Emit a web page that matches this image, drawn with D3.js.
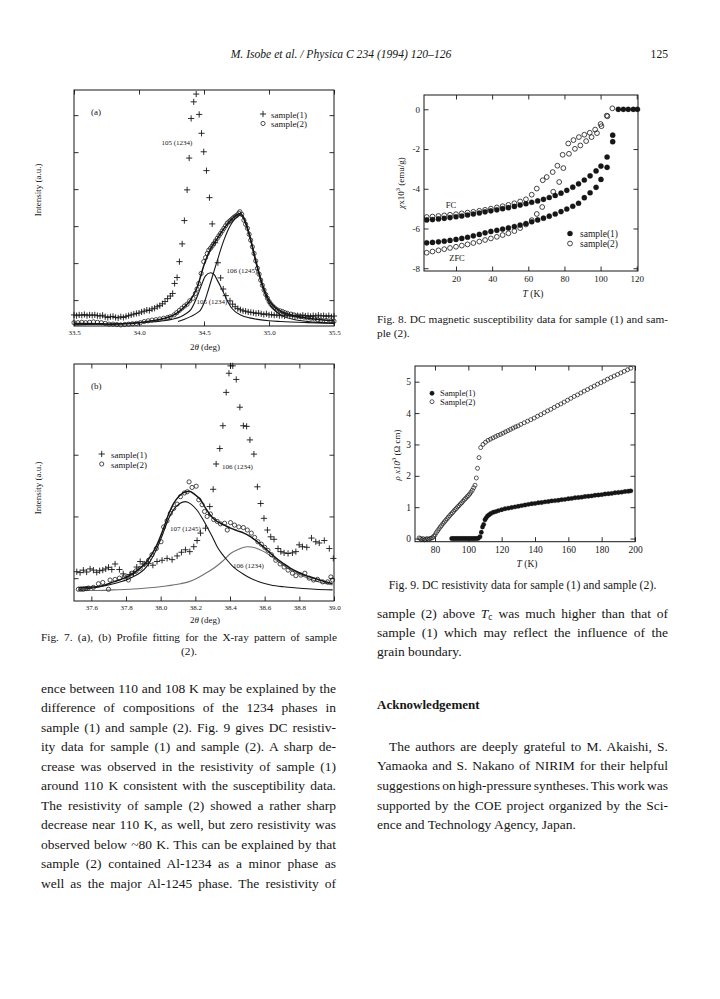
<!DOCTYPE html>
<html><head><meta charset="utf-8">
<script src="https://cdn.jsdelivr.net/npm/d3@7"></script>
<style>
html,body{margin:0;padding:0;background:#fff;}
body{width:720px;height:999px;position:relative;overflow:hidden;font-family:"Liberation Serif","Times New Roman",serif;color:#161616;}
#chart{position:absolute;left:0;top:0;}
.ln{position:absolute;white-space:nowrap;}
sub{font-size:0.7em;vertical-align:-0.25em;line-height:0;}
</style></head>
<body>
<svg id="chart" width="720" height="999"></svg>
<script>
// ---------------- DATA ----------------
// Fig 7(a): 2theta (deg) vs intensity (a.u.)
const aXTicks = [33.5, 34.0, 34.5, 35.0, 35.5];
const aYTicks = [0.7, 1.7, 2.7, 3.7, 4.7, 5.7];
const aSample1 = [[33.50,0.30],[33.52,0.28],[33.54,0.30],[33.56,0.29],[33.58,0.31],[33.60,0.28],[33.62,0.30],[33.64,0.29],[33.66,0.30],[33.68,0.28],[33.70,0.27],[33.72,0.29],[33.74,0.25],[33.76,0.23],[33.78,0.25],[33.80,0.26],[33.82,0.23],[33.84,0.22],[33.86,0.25],[33.88,0.23],[33.90,0.26],[33.92,0.28],[33.94,0.30],[33.96,0.32],[33.98,0.34],[34.00,0.35],[34.02,0.38],[34.04,0.40],[34.06,0.43],[34.08,0.42],[34.10,0.46],[34.12,0.48],[34.14,0.52],[34.16,0.55],[34.18,0.60],[34.20,0.66],[34.22,0.74],[34.241,0.81],[34.259,0.88],[34.274,1.15],[34.293,1.31],[34.311,1.74],[34.332,2.22],[34.349,2.85],[34.370,3.68],[34.386,4.54],[34.401,5.61],[34.421,6.06],[34.440,6.27],[34.463,5.72],[34.481,5.21],[34.498,4.71],[34.519,4.20],[34.542,3.47],[34.563,2.76],[34.585,2.25],[34.607,1.71],[34.628,1.30],[34.648,1.00],[34.668,0.82],[34.70,0.68],[34.72,0.59],[34.74,0.52],[34.76,0.47],[34.78,0.44],[34.80,0.41],[34.82,0.40],[34.84,0.38],[34.86,0.37],[34.88,0.36],[34.90,0.34],[34.92,0.35],[34.94,0.33],[34.96,0.31],[34.98,0.33],[35.00,0.30],[35.02,0.31],[35.04,0.29],[35.06,0.30],[35.08,0.28],[35.10,0.29],[35.12,0.27],[35.14,0.29],[35.16,0.27],[35.18,0.28],[35.20,0.26],[35.22,0.28],[35.24,0.27],[35.26,0.29],[35.28,0.27],[35.30,0.28],[35.32,0.26],[35.34,0.28],[35.36,0.27],[35.38,0.29],[35.40,0.27],[35.42,0.28],[35.44,0.26],[35.46,0.28],[35.48,0.25],[35.50,0.27]];
const aSample2 = [[33.50,0.09],[33.53,0.09],[33.56,0.10],[33.59,0.09],[33.62,0.10],[33.65,0.11],[33.68,0.10],[33.71,0.09],[33.74,0.07],[33.77,0.05],[33.80,0.05],[33.83,0.04],[33.86,0.03],[33.89,0.04],[33.92,0.05],[33.95,0.06],[33.98,0.07],[34.01,0.09],[34.04,0.12],[34.07,0.14],[34.10,0.16],[34.13,0.17],[34.16,0.19],[34.19,0.21],[34.22,0.23],[34.24,0.25],[34.27,0.30],[34.29,0.36],[34.31,0.42],[34.33,0.48],[34.35,0.54],[34.37,0.59],[34.39,0.68],[34.416,0.75],[34.434,0.88],[34.446,1.00],[34.46,1.15],[34.478,1.42],[34.498,1.74],[34.512,1.85],[34.525,1.96],[34.537,2.05],[34.55,2.10],[34.562,2.16],[34.573,2.22],[34.588,2.30],[34.602,2.37],[34.615,2.44],[34.627,2.50],[34.64,2.57],[34.653,2.64],[34.666,2.71],[34.679,2.78],[34.692,2.82],[34.705,2.86],[34.718,2.90],[34.730,2.94],[34.743,2.97],[34.756,3.00],[34.768,3.05],[34.776,3.09],[34.79,3.02],[34.807,2.86],[34.82,2.75],[34.834,2.64],[34.847,2.48],[34.859,2.32],[34.872,2.14],[34.885,1.96],[34.898,1.76],[34.911,1.56],[34.924,1.40],[34.936,1.24],[34.949,1.10],[34.962,0.97],[34.975,0.85],[34.988,0.75],[35.001,0.66],[35.014,0.59],[35.027,0.54],[35.039,0.50],[35.052,0.46],[35.065,0.43],[35.085,0.41],[35.104,0.39],[35.123,0.36],[35.142,0.34],[35.168,0.32],[35.193,0.30],[35.22,0.27],[35.245,0.25],[35.27,0.24],[35.295,0.22],[35.322,0.21],[35.35,0.19],[35.375,0.17],[35.40,0.16],[35.44,0.15],[35.477,0.14],[35.50,0.13]];
const aFitTotal = [[33.5,0.07],[33.6,0.07],[33.7,0.06],[33.8,0.05],[33.9,0.06],[34.0,0.09],[34.1,0.14],[34.2,0.21],[34.25,0.27],[34.3,0.37],[34.35,0.52],[34.4,0.72],[34.45,1.07],[34.5,1.65],[34.55,2.08],[34.6,2.35],[34.65,2.62],[34.7,2.84],[34.75,3.00],[34.78,3.04],[34.8,2.97],[34.85,2.47],[34.9,1.75],[34.95,1.12],[35.0,0.70],[35.05,0.49],[35.1,0.38],[35.2,0.27],[35.3,0.21],[35.4,0.17],[35.5,0.14]];
const aFit1245 = [[34.30,0.12],[34.35,0.18],[34.40,0.26],[34.45,0.36],[34.473,0.43],[34.50,0.62],[34.525,0.88],[34.55,1.17],[34.576,1.47],[34.60,1.74],[34.627,2.05],[34.653,2.32],[34.679,2.55],[34.705,2.73],[34.73,2.86],[34.755,2.95],[34.776,3.00],[34.80,2.93],[34.85,2.42],[34.90,1.70],[34.95,1.05],[35.0,0.62],[35.05,0.40],[35.1,0.28],[35.2,0.17],[35.3,0.12],[35.4,0.09],[35.5,0.08]];
const aFit1234 = [[33.5,0.03],[33.7,0.05],[33.9,0.07],[34.05,0.10],[34.19,0.14],[34.25,0.18],[34.32,0.25],[34.36,0.33],[34.40,0.45],[34.447,0.79],[34.48,1.10],[34.51,1.35],[34.55,1.44],[34.58,1.38],[34.602,1.24],[34.63,1.05],[34.653,0.88],[34.68,0.68],[34.705,0.52],[34.74,0.39],[34.782,0.30],[34.85,0.22],[34.911,0.18],[35.0,0.14],[35.09,0.12],[35.3,0.09],[35.5,0.07]];

// Fig 7(b)
const bXTicks = [37.6, 37.8, 38.0, 38.2, 38.4, 38.6, 38.8, 39.0];
const bYTicks = [0.37, 1.37, 2.37, 3.37];
const bSample1 = [[37.516,0.475],[37.535,0.46],[37.554,0.50],[37.573,0.47],[37.593,0.52],[37.612,0.50],[37.631,0.465],[37.648,0.49],[37.666,0.50],[37.683,0.52],[37.699,0.546],[37.718,0.51],[37.737,0.60],[37.762,0.51],[37.784,0.44],[37.805,0.39],[37.824,0.43],[37.843,0.45],[37.862,0.55],[37.882,0.64],[37.905,0.60],[37.93,0.61],[37.955,0.58],[37.979,0.64],[38.008,0.66],[38.037,0.69],[38.066,0.67],[38.095,0.73],[38.12,0.79],[38.143,0.83],[38.168,0.80],[38.191,0.88],[38.21,0.98],[38.23,1.10],[38.259,1.18],[38.283,1.53],[38.303,1.81],[38.32,2.22],[38.341,2.47],[38.359,2.84],[38.378,3.38],[38.394,3.69],[38.403,3.81],[38.416,3.81],[38.436,3.59],[38.457,3.14],[38.477,2.84],[38.496,2.83],[38.515,2.61],[38.538,2.38],[38.558,1.85],[38.577,1.58],[38.596,1.34],[38.616,1.15],[38.635,1.04],[38.654,1.00],[38.677,0.85],[38.693,0.80],[38.712,0.78],[38.735,0.77],[38.76,0.78],[38.78,0.80],[38.799,0.91],[38.818,0.88],[38.843,0.87],[38.87,1.02],[38.895,0.96],[38.915,0.94],[38.944,0.98],[38.973,0.85],[38.996,0.69]];
const bSample2 = [[37.525,0.19],[37.54,0.19],[37.554,0.19],[37.57,0.20],[37.583,0.21],[37.612,0.22],[37.641,0.28],[37.666,0.30],[37.699,0.19],[37.708,0.34],[37.737,0.35],[37.762,0.37],[37.79,0.39],[37.814,0.34],[37.834,0.45],[37.859,0.49],[37.882,0.53],[37.905,0.60],[37.93,0.66],[37.95,0.75],[37.975,0.85],[38.002,0.96],[38.017,1.20],[38.037,1.30],[38.056,1.42],[38.075,1.50],[38.095,1.57],[38.114,1.69],[38.137,1.75],[38.153,1.77],[38.164,1.93],[38.181,1.84],[38.205,1.86],[38.22,1.64],[38.239,1.56],[38.253,1.45],[38.268,1.37],[38.287,1.41],[38.306,1.32],[38.326,1.29],[38.345,1.25],[38.369,1.26],[38.384,1.15],[38.403,1.27],[38.426,1.23],[38.451,1.20],[38.477,1.19],[38.50,1.15],[38.523,1.10],[38.542,1.03],[38.561,0.96],[38.581,0.92],[38.60,0.87],[38.619,0.82],[38.639,0.75],[38.664,0.66],[38.689,0.60],[38.712,0.55],[38.735,0.50],[38.76,0.45],[38.78,0.41],[38.809,0.42],[38.832,0.45],[38.857,0.37],[38.882,0.34],[38.905,0.35],[38.934,0.31],[38.963,0.31],[38.982,0.39],[38.992,0.34]];
const bFitTotal = [[37.525,0.22],[37.631,0.23],[37.728,0.31],[37.824,0.42],[37.92,0.64],[37.97,0.86],[38.017,1.18],[38.045,1.40],[38.075,1.58],[38.11,1.71],[38.143,1.77],[38.165,1.78],[38.195,1.73],[38.23,1.64],[38.26,1.50],[38.287,1.39],[38.315,1.31],[38.345,1.26],[38.375,1.22],[38.403,1.18],[38.44,1.14],[38.48,1.10],[38.52,1.04],[38.558,0.96],[38.60,0.86],[38.635,0.77],[38.672,0.68],[38.712,0.60],[38.75,0.53],[38.79,0.47],[38.84,0.41],[38.886,0.37],[38.94,0.32],[38.992,0.28]];
const bFit1245 = [[37.525,0.19],[37.628,0.22],[37.728,0.28],[37.824,0.37],[37.92,0.56],[37.97,0.80],[38.017,1.12],[38.045,1.33],[38.075,1.48],[38.11,1.58],[38.143,1.61],[38.175,1.57],[38.21,1.47],[38.24,1.34],[38.268,1.20],[38.298,1.04],[38.326,0.88],[38.355,0.76],[38.384,0.66],[38.413,0.57],[38.442,0.50],[38.48,0.43],[38.519,0.37],[38.58,0.30],[38.635,0.26],[38.71,0.23],[38.79,0.21],[38.89,0.19],[38.992,0.18]];
const bFit1234 = [[37.525,0.17],[37.63,0.17],[37.728,0.18],[37.82,0.19],[37.92,0.21],[38.02,0.24],[38.114,0.28],[38.16,0.31],[38.21,0.37],[38.26,0.45],[38.306,0.53],[38.355,0.64],[38.403,0.77],[38.45,0.84],[38.50,0.88],[38.548,0.86],[38.596,0.80],[38.645,0.71],[38.693,0.61],[38.74,0.52],[38.79,0.45],[38.84,0.38],[38.886,0.33],[38.94,0.29],[38.992,0.26]];

// Fig 8: T (K) vs chi x10^3 (emu/g)
const f8XTicks = [20, 40, 60, 80, 100, 120];
const f8YTicks = [0, -2, -4, -6, -8];
const f8FCSample1 = [[3.8,-5.57],[7.0,-5.55],[10.3,-5.52],[13.5,-5.49],[16.7,-5.45],[20.0,-5.41],[23.2,-5.37],[26.4,-5.32],[29.6,-5.27],[32.9,-5.22],[36.1,-5.16],[39.3,-5.11],[42.6,-5.06],[45.8,-5.00],[49.0,-4.95],[52.3,-4.89],[55.5,-4.82],[58.7,-4.75],[61.9,-4.68],[65.2,-4.61],[68.4,-4.53],[71.6,-4.44],[74.9,-4.34],[78.1,-4.22],[81.3,-4.08],[84.6,-3.92],[87.8,-3.75],[91.0,-3.56],[94.2,-3.35],[97.5,-3.10],[100.2,-2.86],[103.6,-2.40],[106.7,-1.30],[109.8,0.0],[112.6,0.0],[115.3,0.0],[118.1,0.0],[120.4,0.0]];
const f8ZFCSample1 = [[3.8,-6.72],[7.0,-6.70],[10.3,-6.67],[13.5,-6.64],[16.7,-6.60],[20.0,-6.55],[23.2,-6.50],[26.4,-6.44],[29.6,-6.37],[32.9,-6.30],[36.1,-6.22],[39.3,-6.15],[42.6,-6.09],[45.8,-6.03],[49.0,-5.97],[52.3,-5.90],[55.5,-5.83],[58.7,-5.75],[61.9,-5.66],[65.2,-5.57],[68.4,-5.48],[71.6,-5.38],[74.9,-5.27],[78.1,-5.15],[81.3,-5.02],[84.6,-4.88],[87.8,-4.73],[91.0,-4.45],[94.2,-4.20],[97.5,-3.93],[100.2,-3.53],[103.6,-2.92],[106.7,-1.63]];
const f8FCSample2 = [[3.8,-5.42],[7.0,-5.40],[10.3,-5.37],[13.5,-5.34],[16.7,-5.31],[20.0,-5.28],[23.2,-5.24],[26.4,-5.20],[29.6,-5.16],[32.9,-5.11],[36.1,-5.06],[39.3,-5.00],[42.6,-4.94],[45.8,-4.88],[49.0,-4.81],[52.3,-4.73],[55.5,-4.64],[58.7,-4.53],[61.9,-4.30],[64.7,-3.99],[68.0,-3.57],[70.2,-3.41],[73.5,-3.16],[76.1,-2.84],[79.0,-2.29],[82.1,-1.72],[85.0,-1.55],[88.0,-1.40],[91.0,-1.28],[94.0,-1.18],[97.0,-1.02],[100.0,-0.74],[103.4,-0.32],[106.5,0.05]];
const f8ZFCSample2 = [[3.8,-7.22],[7.0,-7.16],[10.3,-7.10],[13.5,-7.04],[16.7,-6.98],[20.0,-6.92],[23.2,-6.86],[26.4,-6.80],[29.6,-6.73],[32.9,-6.66],[36.1,-6.58],[39.3,-6.50],[42.6,-6.42],[45.8,-6.33],[49.0,-6.24],[52.3,-6.13],[55.5,-5.98],[58.7,-5.80],[61.9,-5.58],[64.7,-5.27],[67.7,-4.92],[73.8,-4.15],[77.1,-3.66],[79.4,-2.96],[82.5,-2.24],[85.8,-1.99],[88.8,-1.82],[92.0,-1.60],[95.0,-1.40],[98.0,-1.20],[100.5,-0.85],[103.8,-0.35]];

// Fig 9: T (K) vs rho x10^3 (Ohm cm)
const f9XTicks = [80, 100, 120, 140, 160, 180, 200];
const f9YTicks = [0, 1, 2, 3, 4, 5];
const f9Sample1 = [[90,0],[91,0],[92,0],[93,0],[94,0],[95,0],[96,0],[97,0],[98,0],[99,0],[100,0],[101,0],[102,0],[103,0],[104,0],[105,0],[106,0.01],[107,0.06],[107.8,0.20],[108.5,0.37],[109.2,0.45],[110,0.60],[110.7,0.66],[111.5,0.72],[112.5,0.76],[113.5,0.80],[115,0.84],[116.5,0.86],[118,0.89],[120,0.92],[122,0.95],[124,0.97],[126,0.99],[128,1.01],[130,1.03],[132,1.05],[134,1.07],[136,1.09],[138,1.11],[140,1.12],[142,1.14],[144,1.15],[146,1.17],[148,1.18],[150,1.20],[152,1.21],[154,1.22],[156,1.24],[158,1.25],[160,1.27],[162,1.28],[164,1.30],[166,1.31],[168,1.32],[170,1.34],[172,1.35],[174,1.36],[176,1.38],[178,1.39],[180,1.40],[182,1.42],[184,1.43],[186,1.44],[188,1.46],[190,1.47],[192,1.48],[194,1.50],[196,1.51],[197.5,1.52]];
const f9Sample2 = [[70.5,0.02],[71.3,0.0],[72.1,-0.03],[72.9,0.0],[73.7,-0.04],[74.5,-0.02],[75.3,0.0],[76.1,-0.03],[76.9,0.0],[77.7,0.01],[78.5,0.03],[79.3,0.07],[80.0,0.12],[80.8,0.19],[81.6,0.25],[82.4,0.31],[83.2,0.37],[84.0,0.42],[84.8,0.48],[85.6,0.53],[86.4,0.58],[87.2,0.63],[88.0,0.68],[88.8,0.73],[89.6,0.78],[90.4,0.82],[91.2,0.87],[92.0,0.92],[92.8,0.96],[93.6,1.01],[94.4,1.05],[95.2,1.10],[96.0,1.14],[96.8,1.19],[97.6,1.24],[98.4,1.28],[99.2,1.33],[100.0,1.37],[100.8,1.42],[101.6,1.48],[102.4,1.54],[103.2,1.62],[104.0,1.70],[104.8,1.93],[105.5,2.24],[106.4,2.58],[107.4,2.90],[108.8,3.00],[110.3,3.07],[111.8,3.13],[113.3,3.17],[114.8,3.21],[116.3,3.25],[117.8,3.29],[119.3,3.32],[120.8,3.36],[122.3,3.40],[123.8,3.44],[125.3,3.48],[126.8,3.52],[128.3,3.56],[129.8,3.59],[131.5,3.64],[133.5,3.69],[135.5,3.74],[137.5,3.79],[139.5,3.84],[141.5,3.90],[143.5,3.95],[145.5,4.01],[147.5,4.07],[149.5,4.12],[151.5,4.18],[153.5,4.24],[155.5,4.29],[157.5,4.35],[159.5,4.41],[161.5,4.47],[163.5,4.53],[165.5,4.58],[167.5,4.64],[169.5,4.70],[171.5,4.75],[173.5,4.81],[175.5,4.86],[177.5,4.92],[179.5,4.97],[181.5,5.02],[183.5,5.08],[185.5,5.13],[187.5,5.18],[189.5,5.23],[191.5,5.28],[193.5,5.33],[195.5,5.38],[197.5,5.43]];

// Text
const headerText = "M. Isobe et al. / Physica C 234 (1994) 120–126";
const pageNumber = "125";
const fig7Caption = ["Fig. 7. (a), (b) Profile fitting for the X-ray pattern of sample", "(2)."];
const fig8Caption = ["Fig. 8. DC magnetic susceptibility data for sample (1) and sam-", "ple (2)."];
const fig9Caption = "Fig. 9. DC resistivity data for sample (1) and sample (2).";
const leftBody = [
 "ence between 110 and 108 K may be explained by the",
 "difference of compositions of the 1234 phases in",
 "sample (1) and sample (2). Fig. 9 gives DC resistiv-",
 "ity data for sample (1) and sample (2). A sharp de-",
 "crease was observed in the resistivity of sample (1)",
 "around 110 K consistent with the susceptibility data.",
 "The resistivity of sample (2) showed a rather sharp",
 "decrease near 110 K, as well, but zero resistivity was",
 "observed below ~80 K. This can be explained by that",
 "sample (2) contained Al-1234 as a minor phase as",
 "well as the major Al-1245 phase. The resistivity of"];
const rightTop = [
 "sample (2) above <i>T</i><sub>c</sub> was much higher than that of",
 "sample (1) which may reflect the influence of the",
 "grain boundary."];
const ackTitle = "Acknowledgement";
const ackBody = [
 "The authors are deeply grateful to M. Akaishi, S.",
 "Yamaoka and S. Nakano of NIRIM for their helpful",
 "suggestions on high-pressure syntheses. This work was",
 "supported by the COE project organized by the Sci-",
 "ence and Technology Agency, Japan."];

// ---------------- DRAWING ----------------
const SERIF = '"Liberation Serif","Times New Roman",serif';
const INK = '#161616';
const svg = d3.select('#chart');

function makeChart(c){
  const g = svg.append('g');
  const x = d3.scaleLinear().domain(c.xDomain).range([c.left, c.right]);
  const y = d3.scaleLinear().domain(c.yDomain).range([c.bottom, c.top]);
  const style = sel => { sel.select('.domain').remove(); sel.selectAll('line').attr('stroke', INK).attr('stroke-width', 0.9);
    sel.selectAll('text').attr('font-family', SERIF).attr('font-size', c.tickFont).attr('fill', INK); };
  g.append('g').attr('transform', `translate(0,${c.bottom})`).call(d3.axisBottom(x).tickValues(c.xTicks).tickSize(-c.tick).tickPadding(c.xPad).tickFormat(c.xFmt)).call(style);
  g.append('g').attr('transform', `translate(0,${c.top})`).call(d3.axisTop(x).tickValues(c.xTicks).tickSize(-c.tick).tickFormat(() => '')).call(style);
  g.append('g').attr('transform', `translate(${c.left},0)`).call(d3.axisLeft(y).tickValues(c.yTicks).tickSize(-c.tick).tickPadding(c.yPad || 3).tickFormat(c.yFmt || (() => ''))).call(style);
  g.append('g').attr('transform', `translate(${c.right},0)`).call(d3.axisRight(y).tickValues(c.yTicks).tickSize(-c.tick).tickFormat(() => '')).call(style);
  g.append('rect').attr('x', c.left).attr('y', c.top).attr('width', c.right - c.left).attr('height', c.bottom - c.top)
    .attr('fill', 'none').attr('stroke', INK).attr('stroke-width', 1);
  return {g, x, y};
}
function crosses(ch, data, s){
  ch.g.append('g').selectAll('path').data(data).join('path')
    .attr('d', d => `M${ch.x(d[0]) - s},${ch.y(d[1])}h${2*s}M${ch.x(d[0])},${ch.y(d[1]) - s}v${2*s}`)
    .attr('stroke', INK).attr('stroke-width', 0.9).attr('fill', 'none');
}
function circles(ch, data, r, filled, sw){
  ch.g.append('g').selectAll('circle').data(data).join('circle')
    .attr('cx', d => ch.x(d[0])).attr('cy', d => ch.y(d[1])).attr('r', r)
    .attr('fill', filled ? INK : 'none').attr('stroke', INK).attr('stroke-width', filled ? 0.3 : (sw || 0.75));
}
function curve(ch, data, w, col){
  ch.g.append('path').datum(data)
    .attr('d', d3.line().x(d => ch.x(d[0])).y(d => ch.y(d[1])).curve(d3.curveMonotoneX))
    .attr('fill', 'none').attr('stroke', col || INK).attr('stroke-width', w);
}
function txt(g, x, y, s, size, anchor){
  return g.append('text').attr('x', x).attr('y', y).attr('font-family', SERIF).attr('font-size', size)
    .attr('fill', INK).attr('text-anchor', anchor || 'start').text(s);
}
function ylabel(g, x, y, size, parts){
  const t = g.append('text').attr('transform', `translate(${x},${y}) rotate(-90)`).attr('font-family', SERIF)
    .attr('font-size', size).attr('fill', INK).attr('text-anchor', 'middle');
  parts.forEach(p => { const ts = t.append('tspan').text(p.t); if (p.i) ts.attr('font-style', 'italic'); if (p.sup) ts.attr('font-size', size*0.7).attr('dy', -size*0.4); if (p.down) ts.attr('dy', size*0.4); });
  return t;
}
function xlabel(g, x, y, size, parts){
  const t = g.append('text').attr('x', x).attr('y', y).attr('font-family', SERIF).attr('font-size', size)
    .attr('fill', INK).attr('text-anchor', 'middle');
  parts.forEach(p => { const ts = t.append('tspan').text(p.t); if (p.i) ts.attr('font-style', 'italic'); });
  return t;
}
const ident = g => ({g, x: v => v, y: v => v});

// ---- Fig 7 (a)
const A = makeChart({left:74, right:334, top:90, bottom:326, xDomain:[33.5,35.5], yDomain:[0,6.38],
  xTicks:aXTicks, yTicks:aYTicks, tick:4.5, xPad:4, tickFont:7, xFmt:d3.format('.1f')});
curve(A, aFit1234, 1.1); curve(A, aFit1245, 1.1); curve(A, aFitTotal, 1.5);
crosses(A, aSample1, 3.1); circles(A, aSample2, 2.1, false);
txt(A.g, 91, 115, '(a)', 9);
txt(A.g, 177, 145, '105 (1234)', 7, 'middle');
txt(A.g, 242, 273, '106 (1245)', 7, 'middle');
txt(A.g, 212, 304, '105 (1234)', 7, 'middle');
crosses(ident(A.g), [[263,114]], 3.1);
circles(ident(A.g), [[263,123.5]], 2.1, false);
txt(A.g, 271, 117.5, 'sample(1)', 9); txt(A.g, 271, 127, 'sample(2)', 9);
ylabel(A.g, 41, 190, 9, [{t:'Intensity (a.u.)'}]);
xlabel(A.g, 205, 350, 9, [{t:'2'},{t:'θ',i:true},{t:' (deg)'}]);

// ---- Fig 7 (b)
const B = makeChart({left:74, right:334, top:364, bottom:601, xDomain:[37.5,39.0], yDomain:[0,3.84],
  xTicks:bXTicks, yTicks:bYTicks, tick:4.5, xPad:4, tickFont:7, xFmt:d3.format('.1f')});
curve(B, bFit1234, 1.1, '#707070'); curve(B, bFit1245, 1.1); curve(B, bFitTotal, 1.5);
crosses(B, bSample1, 3.1); circles(B, bSample2, 2.1, false);
txt(B.g, 91, 389, '(b)', 9);
txt(B.g, 222, 469, '106 (1234)', 7);
txt(B.g, 170, 531, '107 (1245)', 7);
txt(B.g, 233, 568, '106 (1234)', 7);
crosses(ident(B.g), [[101.7,454]], 3.1);
circles(ident(B.g), [[101.7,464]], 2.1, false);
txt(B.g, 111, 457.5, 'sample(1)', 9); txt(B.g, 111, 467.5, 'sample(2)', 9);
ylabel(B.g, 41, 488, 9, [{t:'Intensity (a.u.)'}]);
xlabel(B.g, 205, 623, 9, [{t:'2'},{t:'θ',i:true},{t:' (deg)'}]);

// ---- Fig 8
const F8 = makeChart({left:424, right:638, top:95, bottom:271, xDomain:[2.3,120.7], yDomain:[-8.14,0.72],
  xTicks:f8XTicks, yTicks:f8YTicks, tick:4.5, xPad:5, yPad:4, tickFont:9, xFmt:d3.format('d'), yFmt:d => String(d)});
circles(F8, f8FCSample2, 2.4, false, 0.8); circles(F8, f8ZFCSample2, 2.4, false, 0.8);
circles(F8, f8FCSample1, 2.6, true); circles(F8, f8ZFCSample1, 2.6, true);
txt(F8.g, 451, 208, 'FC', 8.5, 'middle');
txt(F8.g, 457, 261, 'ZFC', 8.5, 'middle');
circles(ident(F8.g), [[570,233.5]], 2.6, true);
circles(ident(F8.g), [[570,243.5]], 2.4, false, 0.8);
txt(F8.g, 580, 236.5, 'sample(1)', 9.5); txt(F8.g, 580, 246.5, 'sample(2)', 9.5);
ylabel(F8.g, 404, 183, 9, [{t:'χ',i:true},{t:'x10'},{t:'3',sup:true},{t:' (emu/g)',down:true}]);
xlabel(F8.g, 533, 296.5, 9.5, [{t:'T',i:true},{t:' (K)'}]);

// ---- Fig 9
const F9 = makeChart({left:415, right:635, top:366, bottom:541.7, xDomain:[68,200], yDomain:[-0.1,5.5],
  xTicks:f9XTicks, yTicks:f9YTicks, tick:4.5, xPad:5, yPad:4, tickFont:9.5, xFmt:d3.format('d'), yFmt:d3.format('d')});
circles(F9, f9Sample2, 2.0, false, 0.7);
circles(F9, f9Sample1, 2.2, true);
circles(ident(F9.g), [[432,393.3]], 2.2, true);
circles(ident(F9.g), [[432,401.7]], 2.0, false, 0.7);
txt(F9.g, 440, 396.3, 'Sample(1)', 8.5); txt(F9.g, 440, 404.7, 'Sample(2)', 8.5);
ylabel(F9.g, 400, 455, 9, [{t:'ρ x10',i:true},{t:'3',sup:true},{t:' (Ω cm)',down:true}]);
xlabel(F9.g, 527, 566.5, 9.5, [{t:'T',i:true},{t:' (K)'}]);

// ---------------- TEXT ----------------
const body = d3.select('body');
function line(html, x, yc, w, size, mode, opts){
  opts = opts || {};
  const d = body.append('div').attr('class', 'ln').style('left', x + 'px').style('top', (yc - size*0.62) + 'px')
    .style('font-size', size + 'px').style('line-height', (size*1.2) + 'px').html(html);
  if (opts.bold) d.style('font-weight', 'bold');
  if (opts.italic) d.style('font-style', 'italic');
  const nat = d.node().getBoundingClientRect().width;
  if (mode === 'justify'){
    const n = (html.replace(/<[^>]+>/g, '').match(/ /g) || []).length;
    if (n) d.style('word-spacing', ((w - nat) / n) + 'px');
  } else if (mode === 'center'){
    d.style('left', (x + (w - nat)/2) + 'px');
  } else if (mode === 'right'){
    d.style('left', (x + w - nat) + 'px');
  }
  return d;
}
line(headerText, 0, 55, 682, 11.6, 'center', {italic:true});
line(pageNumber, 600, 55, 68, 11.6, 'right');
// captions
line(fig8Caption[0], 377, 320, 291, 11.3, 'justify');
line(fig8Caption[1], 377, 334.5, 291, 11.3, 'left');
line(fig9Caption, 377, 585, 291, 11.8, 'center');
line(fig7Caption[0], 41, 638, 296, 11.3, 'justify');
line(fig7Caption[1], 41, 652.5, 296, 11.3, 'center');
// left body
leftBody.forEach((s, i) => line(s, 41, 689 + i*19.5, 295, 13.5, 'justify'));
// right column
rightTop.forEach((s, i) => line(s, 377, 614 + i*19.3, 291, 13.5, i < 2 ? 'justify' : 'left'));
line(ackTitle, 377, 705, 291, 13, 'left', {bold:true});
ackBody.forEach((s, i) => line(s, i === 0 ? 389 : 377, 747 + i*19.7, i === 0 ? 279 : 291, 13.5, i < 4 ? 'justify' : 'left'));
</script>
</body></html>
